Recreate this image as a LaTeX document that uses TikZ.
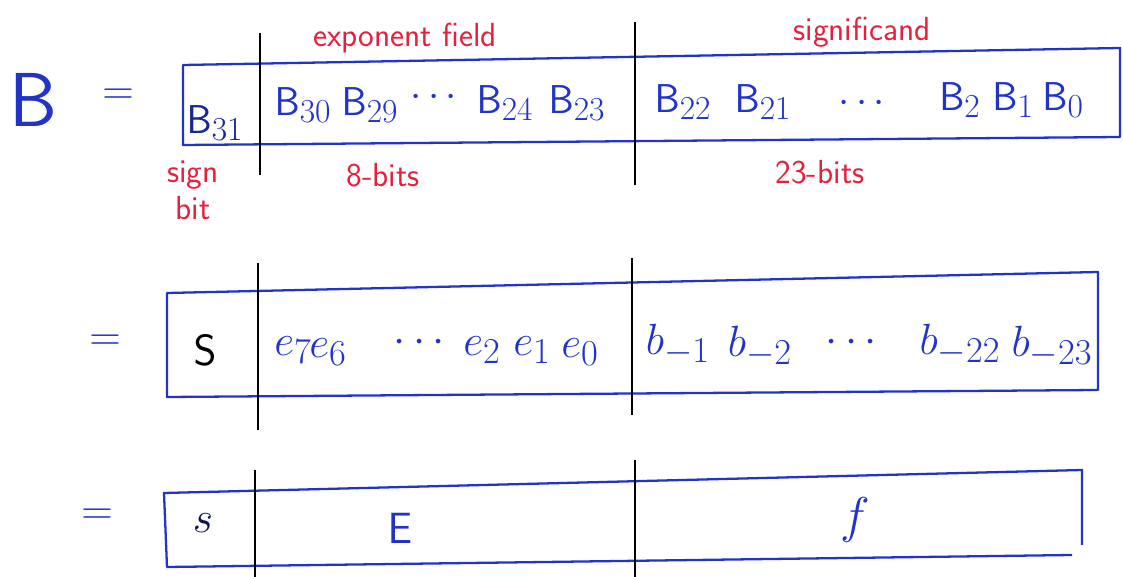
\documentclass[tikz,border=0pt]{standalone}
\usepackage{amsmath,amssymb}
\usepackage{tikz}
\usetikzlibrary{calc,positioning}
\definecolor{tinta}{HTML}{2233C8}
\definecolor{rojo}{HTML}{E5203C}

\tikzset{
  caja/.style={draw=tinta,line width=1.3pt,line join=round},
  corte/.style={draw=black,line width=1pt},
  bit/.style={text=tinta,font=\Huge,inner sep=0pt},
  bitB/.style={bit,scale=0.92},
  nota/.style={text=rojo,font=\sffamily\fontsize{19}{21}\selectfont,inner sep=0pt},
}

\begin{document}
\begin{tikzpicture}[x=0.02cm,y=-0.02cm]
        \useasboundingbox (0,0) rectangle (1123,577);
        % left side
        \node[bit] (Bbig) at (33,100) {\scalebox{1.75}{$\mathsf{B}$}};
        \node[bit] (eq1) at (118,97) {$=$};
        \node[bit] (eq2) at (105,343) {$=$};
        \node[bit] (eq3) at (97,517) {$=$};
        % row 1: B_31 ... B_0
        \draw[caja] (183,65) -- (1120,48) -- (1120,137) -- (183,145) -- cycle;
        \draw[corte] (260,33) -- (260,175);
        \draw[corte] (635,22) -- (635,185);
        \node[bitB,text=tinta!75!black] (b31) at (215,123) {$\mathsf{B}_{31}$};
        \node[bitB] (b30) at (303,105) {$\mathsf{B}_{30}$};
        \node[bitB] (b29) at (370,105) {$\mathsf{B}_{29}$};
        \node[bitB] (d1) at (437,98) {$\cdots$};
        \node[bitB] (b24) at (505,103) {$\mathsf{B}_{24}$};
        \node[bitB] (b23) at (577,103) {$\mathsf{B}_{23}$};
        \node[bitB] (b22) at (683,102) {$\mathsf{B}_{22}$};
        \node[bitB] (b21) at (763,102) {$\mathsf{B}_{21}$};
        \node[bitB] (d2) at (865,104) {$\cdots$};
        \node[bitB] (b2) at (960,100) {$\mathsf{B}_{2}$};
        \node[bitB] (b1) at (1013,100) {$\mathsf{B}_{1}$};
        \node[bitB] (b0) at (1063,100) {$\mathsf{B}_{0}$};
        \node[nota] (expo) at (405,38) {exponent field};
        \node[nota] (signif) at (862,32) {significand};
        \node[nota,align=center] (signo) at (193,190) {sign\\bit};
        \node[nota] (ocho) at (383,175) {8-bits};
        \node[nota] (veinti) at (820,172) {23-bits};
        % row 2: s, e_7 ... e_0, b_-1 ... b_-23
        \draw[caja] (167,293) -- (1098,272) -- (1098,390) -- (167,397) -- cycle;
        \draw[corte] (258,263) -- (258,430);
        \draw[corte] (632,258) -- (632,415);
        \node[bit,text=black] (s2) at (205,350) {$\mathsf{S}$};
        \node[bit] (e7) at (293,350) {$e_7$};
        \node[bit] (e6) at (328,352) {$e_6$};
        \node[bit] (d3) at (423,343) {$\cdots$};
        \node[bit] (e2) at (482,350) {$e_2$};
        \node[bit] (e1) at (532,350) {$e_1$};
        \node[bit] (e0) at (580,352) {$e_0$};
        \node[bit] (bm1) at (678,345) {$b_{-1}$};
        \node[bit] (bm2) at (760,347) {$b_{-2}$};
        \node[bit] (d4) at (855,343) {$\cdots$};
        \node[bit] (bm22) at (960,345) {$b_{-22}$};
        \node[bit] (bm23) at (1052,347) {$b_{-23}$};
        % row 3: s, E, f
        \draw[caja] (1082,545) -- (1082,470) -- (164,493) -- (167,567) -- (1072,555);
        \draw[corte] (255,470) -- (255,577);
        \draw[corte] (635,460) -- (635,577);
        \node[bit,text=black!60!tinta] (s3) at (203,523) {$s$};
        \node[bit] (E3) at (400,528) {$\mathsf{E}$};
        \node[bit] (f3) at (855,520) {\scalebox{1.15}{$f$}};
      \end{tikzpicture}
\end{document}
